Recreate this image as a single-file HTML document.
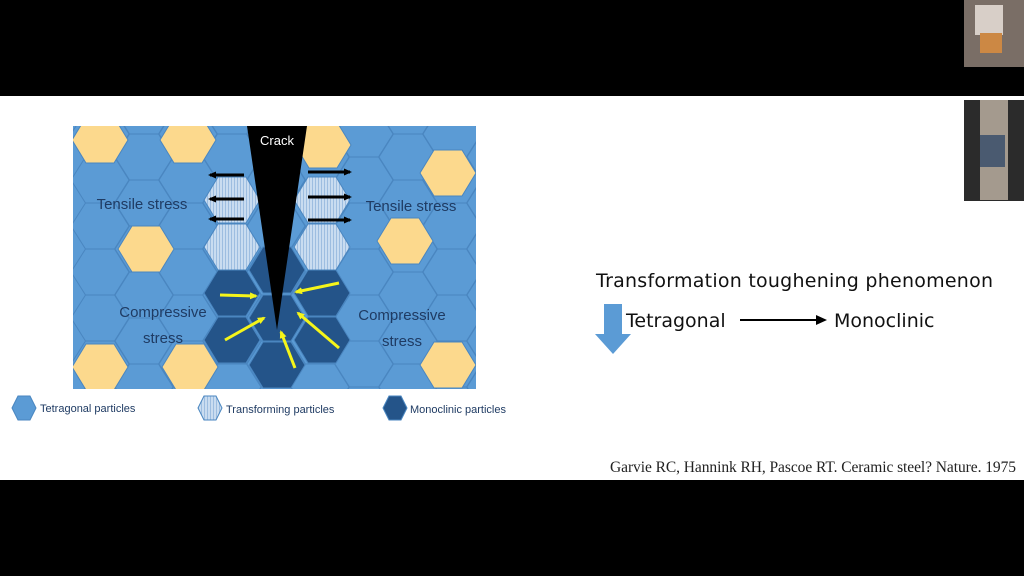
<!DOCTYPE html>
<html><head><meta charset="utf-8"><style>
body{margin:0;width:1024px;height:576px;background:#000;overflow:hidden;position:relative;font-family:"Liberation Sans",sans-serif}
.slide{position:absolute;left:0;top:96px;width:1024px;height:384px;background:#fff}
svg{position:absolute;left:0;top:0}
</style></head><body>
<div class="slide"></div>
<svg id="s" width="1024" height="576" viewBox="0 0 1024 576">
<defs>
<pattern id="st" width="3" height="10" patternUnits="userSpaceOnUse"><rect width="3" height="10" fill="#c9dcf0"/><rect width="1" height="10" fill="#9dbde0"/></pattern>
<clipPath id="c"><rect x="73" y="126" width="403" height="263"/></clipPath>
<marker id="ab" markerUnits="userSpaceOnUse" markerWidth="8" markerHeight="8" refX="6" refY="4" orient="auto"><path d="M0,0.5L8,4L0,7.5z" fill="#000"/></marker>
<marker id="ay" markerUnits="userSpaceOnUse" markerWidth="8" markerHeight="8" refX="6" refY="4" orient="auto"><path d="M0,0.5L8,4L0,7.5z" fill="#f5f51a"/></marker>
</defs>
<rect x="73" y="126" width="403" height="263" fill="#5b9bd5"/>
<g id="g" clip-path="url(#c)"></g>
<polygon points="247,126 307,126 277,330" fill="#000"/>
<text x="277" y="145" fill="#fff" font-size="13" text-anchor="middle">Crack</text>
<g stroke="#000" stroke-width="3" marker-end="url(#ab)">
<line x1="244" y1="175" x2="210" y2="175"/><line x1="244" y1="199" x2="210" y2="199"/><line x1="244" y1="219" x2="210" y2="219"/>
<line x1="308" y1="172" x2="350" y2="172"/><line x1="308" y1="197" x2="350" y2="197"/><line x1="308" y1="220" x2="350" y2="220"/>
</g>
<g stroke="#f5f51a" stroke-width="3" marker-end="url(#ay)">
<line x1="220" y1="295" x2="256" y2="296"/><line x1="225" y1="340" x2="264" y2="318"/><line x1="295" y1="368" x2="281" y2="332"/>
<line x1="339" y1="283" x2="296" y2="292"/><line x1="339" y1="348" x2="298" y2="313"/>
</g>
<g fill="#1f3b63" font-size="15" text-anchor="middle">
<text x="142" y="209">Tensile stress</text><text x="411" y="211">Tensile stress</text>
<text x="163" y="317">Compressive</text><text x="163" y="343">stress</text>
<text x="402" y="320">Compressive</text><text x="402" y="346">stress</text>
</g>
<g id="leg"></g>
<g fill="#1f3b63" font-size="11">
<text x="40" y="412">Tetragonal particles</text><text x="226" y="413">Transforming particles</text><text x="410" y="413">Monoclinic particles</text>
</g>
<text x="596" y="287" font-size="19" fill="#111" font-family="DejaVu Sans" textLength="397">Transformation toughening phenomenon</text>
<text x="626" y="327" font-size="19" fill="#111" font-family="DejaVu Sans">Tetragonal</text>
<text x="834" y="327" font-size="19" fill="#111" font-family="DejaVu Sans">Monoclinic</text>
<line x1="740" y1="320" x2="818" y2="320" stroke="#000" stroke-width="2"/><path d="M816,315L827,320L816,325z"/>
<path d="M604,304H622V334H631L613,354L595,334H604z" fill="#5b9bd5"/>
<text x="1016" y="472" font-size="15.5" fill="#222" font-family="Liberation Serif" text-anchor="end" textLength="406">Garvie RC, Hannink RH, Pascoe RT. Ceramic steel? Nature. 1975</text>
<rect x="964" y="0" width="60" height="67" fill="#7a6e66"/><rect x="975" y="5" width="28" height="30" fill="#d8cfc8"/><rect x="980" y="33" width="22" height="20" fill="#c84"/>
<rect x="964" y="100" width="60" height="101" fill="#2b2b2b"/><rect x="980" y="100" width="28" height="100" fill="#a49a8e"/><rect x="980" y="135" width="25" height="32" fill="#4a5a70"/>
</svg>
<script>
var g=document.getElementById('g'),ns='http://www.w3.org/2000/svg';
function hex(cx,cy,w,h,f,p){var q=w/4,a=h/2,e=document.createElementNS(ns,'polygon');
e.setAttribute('points',[[cx-w/2,cy],[cx-q,cy-a],[cx+q,cy-a],[cx+w/2,cy],[cx+q,cy+a],[cx-q,cy+a]].join(' '));
e.setAttribute('fill',f);e.setAttribute('stroke','#4a86c0');e.setAttribute('stroke-width','1');(p||g).appendChild(e);}
for(var i=0;i<10;i++){for(var j=-1;j<8;j++){var x=100+44*i,y=(i%2?157:134)+46*j;hex(x,y,58,46,'#5b9bd5');}}
var T='#fcd98d';
[[100,140],[188,140],[146,249],[100,367],[190,367],[323,145],[448,173],[405,241],[448,365]].forEach(function(p){hex(p[0],p[1],56,46,T)});
[[232,200],[232,247],[322,200],[322,247]].forEach(function(p){hex(p[0],p[1],56,46,'url(#st)')});
[[232,293],[232,340],[277,270],[277,318],[277,365],[322,293],[322,340]].forEach(function(p){hex(p[0],p[1],56,46,'#245489')});
var L=document.getElementById('leg');
hex(24,408,24,24,'#5b9bd5',L);hex(210,408,24,24,'url(#st)',L);hex(395,408,24,24,'#245489',L);
</script>
</body></html>
